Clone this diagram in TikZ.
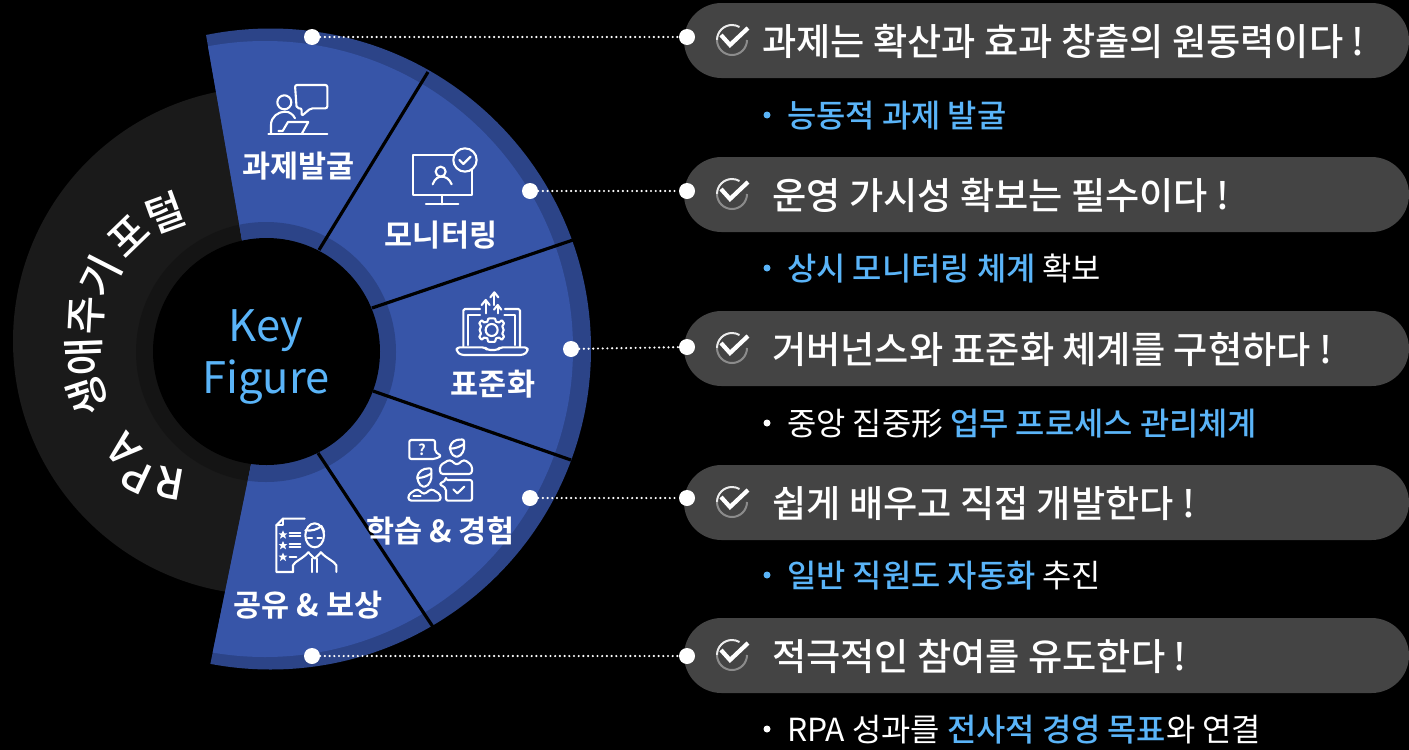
\documentclass[tikz,border=0pt]{standalone}
\usepackage{fontspec}
\setmainfont{Noto Sans CJK KR}[BoldFont={Noto Sans CJK KR Bold}]
\newfontfamily\krmed{Noto Sans CJK KR Medium}
\usetikzlibrary{calc}
\definecolor{bandblue}{HTML}{2C4488}
\definecolor{mainblue}{HTML}{3755A8}
\definecolor{ringgrey}{HTML}{1A1A1A}
\definecolor{ringin}{HTML}{141414}
\definecolor{pillgrey}{HTML}{444444}
\definecolor{skyblue}{HTML}{5AB4F8}
\newcommand{\fs}[1]{\fontsize{#1}{#1}\selectfont}
\newcommand{\hl}[1]{\textcolor{skyblue}{\krmed #1}}
\tikzset{
  wedgelabel/.style={text=white,font=\bfseries\fs{30.5},inner sep=0pt,anchor=center},
  keylabel/.style={text=skyblue,font=\fs{43.5},inner sep=0pt,anchor=center},
  headline/.style={text=white,font=\krmed\fs{37.2},inner sep=0pt,anchor=base west},
  subline/.style={text=white,font=\fs{31.8},inner sep=0pt,anchor=base west},
  arcglyph/.style={text=white,font=\krmed\fs{42},inner sep=0pt,anchor=center},
  dotnode/.style={circle,fill=white,inner sep=0pt,minimum size=16pt},
  bulletnode/.style={circle,fill=#1,inner sep=0pt,minimum size=7pt},
  leader/.style={white,line width=2.4pt,dash pattern=on 0pt off 4.7pt,line cap=round},
  divider/.style={black,line width=3.2pt},
  iconline/.style={white,line width=2.1pt,line join=round,line cap=round},
  pillshape/.style={fill=pillgrey,rounded corners=37.5pt},
}
\newcommand{\checkicon}[1]{%
  \draw[white!85!gray,line width=2pt] (732,-#1)++(180:15) arc[start angle=180,end angle=60,radius=15];
  \draw[gray!90!white,line width=2pt] (732,-#1)++(180:15) arc[start angle=180,end angle=360,radius=15];
  \draw[white,line width=4.2pt,line join=miter] (721,-#1+5) -- (730,-#1-5) -- (748,-#1+12);
}
\begin{document}
\begin{tikzpicture}[x=1pt,y=1pt]
\useasboundingbox (0,0) rectangle (1409,-750);
\fill[black] (0,0) rectangle (1409,-750);
% grey ring
\fill[ringgrey] (267,-341) circle[radius=254];
\fill[ringin] (266,-352) circle[radius=130];
% blue fan
\begin{scope}
\clip (267.4,-384.7) -- (199.9,0) -- (700,0) -- (700,-700) -- (203,-700) -- cycle;
\fill[bandblue] (270.5,-349) circle[radius=320.5];
\fill[mainblue] (265,-349) circle[radius=308];
\fill[bandblue] (266,-352) circle[radius=130];
\end{scope}
\fill[black] (266.5,-351.5) circle[radius=113.5];
% dividers
\coordinate (s1a) at (428,-72); \coordinate (s1b) at (319,-250);
\coordinate (s2a) at (573,-240); \coordinate (s2b) at (372,-308);
\coordinate (s3a) at (571,-460); \coordinate (s3b) at (373,-391);
\coordinate (s4a) at (433,-627); \coordinate (s4b) at (318,-453);
\draw[divider] (s1a) -- (s1b);
\draw[divider] (s2a) -- (s2b);
\draw[divider] (s3a) -- (s3b);
\draw[divider] (s4a) -- (s4b);
% curved text
\node[arcglyph,rotate=170] (c1) at (170,-483) {R};
\node[arcglyph,rotate=155] (c2) at (137,-477) {P};
\node[arcglyph,rotate=131] (c3) at (123,-450) {A};
\node[arcglyph,rotate=108] (c4) at (88,-396) {생};
\node[arcglyph,rotate=92]  (c5) at (84,-357) {애};
\node[arcglyph,rotate=87]  (c6) at (87,-315) {주};
\node[arcglyph,rotate=63]  (c7) at (100,-276) {기};
\node[arcglyph,rotate=44]  (c8) at (128,-236) {포};
\node[arcglyph,rotate=20]  (c9) at (165,-213) {털};
% centre
\node[keylabel] (key) at (266,-331) {Key};
\node[keylabel] (fig) at (266,-382) {Figure};
% pills
\foreach \t in {3,157,311,465,618}{
  \fill[pillshape] (684,-\t) rectangle (1409,-\t-75);
}
% wedge labels
\node[wedgelabel] (w1) at (298.5,-166) {과제발굴};
\node[wedgelabel] (w2) at (441,-235) {모니터링};
\node[wedgelabel] (w3) at (493,-384) {표준화};
\node[wedgelabel] (w4) at (440.5,-531) {학습 \& 경험};
\node[wedgelabel] (w5) at (308,-605) {공유 \& 보상};
% dots and leaders
\node[dotnode] (a1) at (312,-37) {};  \node[dotnode] (b1) at (687,-37) {};
\node[dotnode] (a2) at (530,-191) {}; \node[dotnode] (b2) at (687,-191) {};
\node[dotnode] (a3) at (571,-349) {}; \node[dotnode] (b3) at (687,-347) {};
\node[dotnode] (a4) at (530,-498) {}; \node[dotnode] (b4) at (687,-498) {};
\node[dotnode] (a5) at (312,-656) {}; \node[dotnode] (b5) at (687,-656) {};
\draw[leader] (a1) -- (b1);
\draw[leader] (a2) -- (b2);
\draw[leader] (a3) -- (b3);
\draw[leader] (a4) -- (b4);
\draw[leader] (a5) -- (b5);
% check icons
\checkicon{40}\checkicon{194}\checkicon{348}\checkicon{502}\checkicon{655}
% headlines
\node[headline] (h1) at (762,-55) {과제는 확산과 효과 창출의 원동력이다 !};
\node[headline] (h2) at (772,-209) {운영 가시성 확보는 필수이다 !};
\node[headline] (h3) at (772,-363) {거버넌스와 표준화 체계를 구현하다 !};
\node[headline] (h4) at (772,-517) {쉽게 배우고 직접 개발한다 !};
\node[headline] (h5) at (772,-670) {적극적인 참여를 유도한다 !};
% sub lines
\node[bulletnode=skyblue] (d1) at (767,-115) {};
\node[bulletnode=skyblue] (d2) at (767,-268) {};
\node[bulletnode=white]   (d3) at (767,-423) {};
\node[bulletnode=skyblue] (d4) at (767,-575) {};
\node[bulletnode=white]   (d5) at (767,-729) {};
\node[subline] (t1) at (787,-127) {\hl{능동적 과제 발굴}};
\node[subline] (t2) at (787,-280) {\hl{상시 모니터링 체계} 확보};
\node[subline] (t3) at (787,-435) {중앙 집중形 \hl{업무 프로세스 관리체계}};
\node[subline] (t4) at (787,-587) {\hl{일반 직원도 자동화} 추진};
\node[subline] (t5) at (787,-741) {RPA 성과를 \hl{전사적 경영 목표}와 연결};
% icon 1
\begin{scope}[shift={(200,-20)},x=.3333pt,y=-.3333pt,iconline]
\draw[rounded corners=2pt] (290,265) -- (285,195) -- (382,195) -- (382,265) -- (332,265) -- (305,288) -- (305,265) -- cycle;
\draw (253,247) circle[radius=21];
\draw (213,340) -- (213,315) .. controls (213,290) and (235,275) .. (255,275) .. controls (270,275) and (280,285) .. (285,295);
\draw (205,342) -- (382,342);
\draw (235,333) -- (248,333) -- (264,306) -- (325,306) -- (305,342);
\end{scope}
% icon 2
\begin{scope}[shift={(200,-20)},x=.3333pt,y=-.3333pt,iconline]
\draw (640,405) rectangle (815,525);
\draw (725,525) -- (725,553);
\draw (678,553) -- (775,553);
\draw (722,455) circle[radius=15];
\draw (698,493) .. controls (705,475) and (715,470) .. (725,470) .. controls (735,470) and (748,475) .. (755,493);
\fill[mainblue] (795,420) circle[radius=35];
\draw (795,420) circle[radius=35];
\draw[line width=2.2pt] (778,420) -- (790,432) -- (812,410);
\end{scope}
% icon 3
\begin{scope}[shift={(445,-285)},x=.3333pt,y=-.3333pt,iconline]
\draw[rounded corners=1.5pt] (55,185) -- (55,72) -- (105,72);
\draw (70,180) -- (70,90) -- (105,90);
\draw[rounded corners=1.5pt] (225,185) -- (225,72) -- (180,72);
\draw (210,180) -- (210,90) -- (178,90);
\draw[rounded corners=3pt] (35,187) -- (120,187) -- (127,195) -- (158,195) -- (165,187) -- (248,187) -- (248,200) -- (235,210) -- (48,210) -- (35,200) -- cycle;
\draw (122,85) -- (122,47); \draw (110,60) -- (122,45) -- (134,60);
\draw (148,60) -- (148,24); \draw (136,37) -- (148,22) -- (160,37);
\draw (158,85) -- (158,62); \draw (147,74) -- (158,60) -- (169,74);
\draw (140,135) circle[radius=18];
\draw plot[smooth cycle,tension=.3] coordinates {
 (140,100) (150,101) (153,110) (163,112) (170,106) (177,115) (172,124) (176,135) (172,146) (177,155) (170,164) (163,158) (153,160) (150,170) (130,170) (127,160) (117,158) (110,164) (103,155) (108,146) (104,135) (108,124) (103,115) (110,106) (117,112) (127,110) (130,101)};
\end{scope}
% icon 4
\begin{scope}[shift={(400,-430)},x=.3333pt,y=-.3333pt,iconline]
\draw[rounded corners=2pt] (28,30) -- (105,30) -- (105,65) -- (124,78) -- (105,87) -- (28,87) -- cycle;
\node[text=white,font=\bfseries\fs{15},inner sep=0pt] (qm) at (66,58) {?};
\draw[rounded corners=2pt] (150,62) -- (150,46) -- (165,30) -- (192,28) -- (192,62) -- (178,80) -- (162,80) -- cycle;
\draw (150,56) .. controls (168,56) and (184,48) .. (192,42);
\draw[rounded corners=3pt] (120,132) -- (120,106) -- (150,88) -- (170,106) -- (192,88) -- (216,106) -- (216,132) -- cycle;
\draw[rounded corners=2pt] (52,150) -- (52,134) -- (67,118) -- (94,114) -- (94,150) -- (80,170) -- (64,170) -- cycle;
\draw (52,144) .. controls (70,144) and (86,136) .. (94,130);
\draw[rounded corners=3pt] (25,212) -- (25,194) -- (52,176) -- (72,194) -- (94,176) -- (122,194) -- (122,212) -- cycle;
\draw (40,198) -- (62,198);
\draw[rounded corners=2pt] (138,150) -- (216,150) -- (216,212) -- (138,212) -- (138,175) -- (118,162) -- (138,150) -- cycle;
\draw (160,178) -- (172,190) -- (193,170);
\end{scope}
% icon 5
\begin{scope}[shift={(268,-512)},x=.3333pt,y=-.3333pt,iconline]
\draw (110,20) -- (45,20) -- (25,40) -- (25,180) -- (75,180);
\draw (45,20) -- (45,40) -- (25,40);
\foreach \sy in {68,100,135}{
  \fill[white] plot coordinates {(45,\sy-13) (49,\sy-4) (58,\sy-4) (51,\sy+2) (54,\sy+12) (45,\sy+6) (36,\sy+12) (39,\sy+2) (32,\sy-4) (41,\sy-4)};
}
\draw (65,62) -- (97,62); \draw (65,73) -- (97,73);
\draw (65,95) -- (97,95); \draw (65,106) -- (97,106);
\draw (65,135) -- (85,135);
\fill[mainblue] (140,70) ellipse[x radius=28,y radius=36];
\draw (140,70) ellipse[x radius=28,y radius=36];
\draw (112,55) .. controls (130,58) and (150,52) .. (160,42) .. controls (165,50) and (168,55) .. (168,60);
\draw (120,78) -- (132,78); \draw (148,78) -- (160,78);
\draw (75,180) -- (75,160) .. controls (80,148) and (105,140) .. (122,120);
\draw (205,180) -- (205,160) .. controls (200,148) and (175,140) .. (158,120);
\draw (122,122) -- (140,140) -- (158,122);
\draw (132,140) -- (132,180); \draw (148,140) -- (148,180);
\end{scope}
\end{tikzpicture}
\end{document}
